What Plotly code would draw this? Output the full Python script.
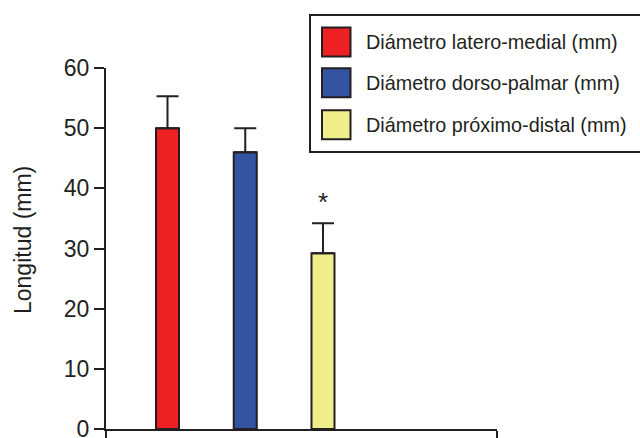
import plotly.graph_objects as go

# ---- data ----
categories = ["Diámetro latero-medial (mm)", "Diámetro dorso-palmar (mm)", "Diámetro próximo-distal (mm)"]
means = [50.0, 46.0, 29.2]
errors_plus = [5.3, 4.0, 5.0]
significant = [False, False, True]
bar_colors = ["#ed2024", "#3453a1", "#f0ee8a"]

y_title = "Longitud (mm)"
y_ticks = [0, 10, 20, 30, 40, 50, 60]

# ---- layout geometry (pixels) ----
W, H = 640, 438
ML, MR, MT, MB = 106, 143, 68, 9
PW, PH = W - ML - MR, H - MT - MB
XR = [-0.791, 4.238]

def px_x(p):
    return (p - ML) / PW

def px_y(p):
    return (H - MB - p) / PH

ink = "#231f20"
font_fam = "Arial, Liberation Sans, Helvetica, sans-serif"

xpos = list(range(len(categories)))

fig = go.Figure()
fig.add_trace(go.Bar(
    x=xpos, y=means, width=0.296,
    marker=dict(color=bar_colors, line=dict(color=ink, width=2)),
    error_y=dict(type="data", array=errors_plus, arrayminus=[0] * len(means),
                 symmetric=False, color=ink, thickness=2, width=11),
    showlegend=False,
))

annotations = []
for i, sig in enumerate(significant):
    if sig:
        annotations.append(dict(x=xpos[i], y=means[i] + errors_plus[i] + 3.5, text="*",
                                showarrow=False, font=dict(size=26, color=ink, family=font_fam),
                                xanchor="center", yanchor="middle"))

# y-axis title as a rotated annotation (positioned like the reference)
annotations.append(dict(xref="paper", yref="paper", x=px_x(23), y=px_y(240), text=y_title,
                        textangle=-90, showarrow=False, xanchor="center", yanchor="middle",
                        font=dict(size=23, color=ink, family=font_fam)))

# manual legend (large swatches)
shapes = [dict(type="rect", xref="paper", yref="paper",
               x0=px_x(310), x1=px_x(643), y0=px_y(152), y1=px_y(15),
               line=dict(color=ink, width=2), fillcolor="white", layer="below")]
centers = [42, 82.7, 124.7]
for name, col, cy in zip(categories, bar_colors, centers):
    shapes.append(dict(type="rect", xref="paper", yref="paper",
                       x0=px_x(322), x1=px_x(350.5), y0=px_y(cy + 14.5), y1=px_y(cy - 14.5),
                       line=dict(color=ink, width=2), fillcolor=col))
    annotations.append(dict(xref="paper", yref="paper", x=px_x(364), y=px_y(cy), text=name,
                            showarrow=False, xanchor="left", yanchor="middle",
                            font=dict(size=19.8, color=ink, family=font_fam)))

fig.update_layout(
    width=W, height=H,
    margin=dict(l=ML, r=MR, t=MT, b=MB, pad=0, autoexpand=False),
    plot_bgcolor="white", paper_bgcolor="white",
    font=dict(family=font_fam, color=ink),
    xaxis=dict(range=XR, showgrid=False, zeroline=False, showline=True, linecolor=ink,
               linewidth=2, ticks="outside", ticklen=9, tickwidth=2, tickcolor=ink,
               tickvals=XR, showticklabels=False, automargin=False),
    yaxis=dict(range=[0, 60], tickvals=y_ticks, showgrid=False, zeroline=False, showline=True,
               linecolor=ink, linewidth=2, ticks="outside", ticklen=10, tickwidth=2,
               tickcolor=ink, tickfont=dict(size=23, color=ink), automargin=False,
               ticklabeloverflow="allow"),
    shapes=shapes,
    annotations=annotations,
)

fig.write_html(
    "out.html",
    config={"displayModeBar": False},
    post_script="document.body.style.margin='0';document.body.style.overflow='hidden';",
)
